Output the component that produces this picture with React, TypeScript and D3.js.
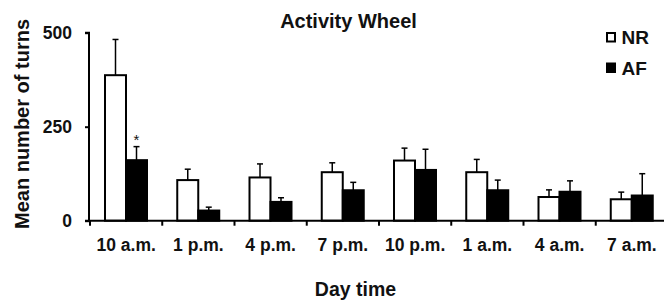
import { useEffect, useRef } from "react";
import * as d3 from "d3";

const categories = ["10 a.m.", "1 p.m.", "4 p.m.", "7 p.m.", "10 p.m.", "1 a.m.", "4 a.m.", "7 a.m."];
const series = ["NR", "AF"];
const nrMeans = [387, 108, 115, 129, 160, 129, 63, 57];
const nrErrors = [95, 29, 36, 25, 33, 34, 19, 19];
const afMeans = [161, 27, 50, 81, 135, 81, 77, 67];
const afErrors = [36, 9, 11, 21, 55, 27, 29, 58];
const significant = [true, false, false, false, false, false, false, false];
const yTicks = [0, 250, 500];

const FONT = "'Liberation Sans', Arial, sans-serif";

const App = () => {
  const svgRef = useRef<SVGSVGElement>(null);

  useEffect(() => {
    const svg = d3.select(svgRef.current);
    svg.selectAll("*").remove();

    const x = d3.scaleBand().domain(categories).range([90, 668]);
    const inner = d3.scaleBand().domain(series).range([15, 57]);
    const y = d3.scaleLinear().domain([0, 500]).range([220.7, 32.7]);

    const rows = categories.map((c, i) => ({
      c,
      bars: [
        { s: "NR", v: nrMeans[i], e: nrErrors[i], fill: "#fff" },
        { s: "AF", v: afMeans[i], e: afErrors[i], fill: "#000" },
      ],
    }));

    const groups = svg
      .selectAll("g.cat")
      .data(rows)
      .join("g")
      .attr("class", "cat")
      .attr("transform", (d) => `translate(${x(d.c)},0)`);

    // error bars (under the bars)
    groups
      .selectAll("g.eb")
      .data((d) => d.bars)
      .join("g")
      .attr("class", "eb")
      .each(function (b) {
        const g = d3.select(this);
        const cx = inner(b.s)! + inner.bandwidth() / 2;
        g.append("line")
          .attr("x1", cx)
          .attr("x2", cx)
          .attr("y1", y(b.v))
          .attr("y2", y(b.v + b.e))
          .attr("stroke", "#000")
          .attr("stroke-width", 1.5);
        g.append("line")
          .attr("x1", cx - 3)
          .attr("x2", cx + 3)
          .attr("y1", y(b.v + b.e))
          .attr("y2", y(b.v + b.e))
          .attr("stroke", "#000")
          .attr("stroke-width", 1.5);
      });

    groups
      .selectAll("rect")
      .data((d) => d.bars)
      .join("rect")
      .attr("x", (b) => inner(b.s)!)
      .attr("width", inner.bandwidth())
      .attr("y", (b) => y(b.v))
      .attr("height", (b) => y(0) - y(b.v))
      .attr("fill", (b) => b.fill)
      .attr("stroke", "#000")
      .attr("stroke-width", 2);

    // significance marker
    groups
      .filter((_, i) => significant[i])
      .append("text")
      .attr("x", inner("AF")! + inner.bandwidth() / 2)
      .attr("y", (d) => y(d.bars[1].v + d.bars[1].e) - 2)
      .attr("text-anchor", "middle")
      .attr("font-family", FONT)
      .attr("font-size", 15)
      .attr("fill", "#111")
      .text("*");

    // axes
    const yAxis = svg
      .append("g")
      .attr("transform", "translate(89,0)")
      .call(d3.axisLeft(y).tickValues(yTicks).tickSize(4).tickPadding(13));
    const xAxis = svg
      .append("g")
      .attr("transform", `translate(0,${y(0)})`)
      .call(d3.axisBottom(x).tickSize(0).tickPadding(17.5));

    // category boundary ticks
    svg
      .append("g")
      .selectAll("line")
      .data(categories)
      .join("line")
      .attr("x1", (c) => x(c)!)
      .attr("x2", (c) => x(c)!)
      .attr("y1", y(0))
      .attr("y2", y(0) + 5)
      .attr("stroke", "#000")
      .attr("stroke-width", 2);

    [yAxis, xAxis].forEach((a) => {
      a.select(".domain").attr("stroke", "#000").attr("stroke-width", 2);
      a.selectAll(".tick line").attr("stroke", "#000").attr("stroke-width", 2);
      a.selectAll(".tick text")
        .attr("fill", "#111")
        .attr("font-family", FONT)
        .attr("font-weight", "bold")
        .attr("font-size", 17.5);
    });
    yAxis.select(".domain").attr("d", `M-4,${y(500)}H0V${y(0)}H-4`);
    xAxis.select(".domain").attr("d", `M88,0H668`);

    // titles
    svg
      .append("text")
      .attr("x", 348.5)
      .attr("y", 27.5)
      .attr("text-anchor", "middle")
      .attr("font-family", FONT)
      .attr("font-weight", "bold")
      .attr("font-size", 20)
      .attr("fill", "#111")
      .text("Activity Wheel");

    svg
      .append("text")
      .attr("transform", `translate(29,124) rotate(-90)`)
      .attr("text-anchor", "middle")
      .attr("font-family", FONT)
      .attr("font-weight", "bold")
      .attr("font-size", 20)
      .attr("fill", "#111")
      .text("Mean number of turns");

    svg
      .append("text")
      .attr("x", 355.5)
      .attr("y", 296)
      .attr("text-anchor", "middle")
      .attr("font-family", FONT)
      .attr("font-weight", "bold")
      .attr("font-size", 19.5)
      .attr("fill", "#111")
      .text("Day time");

    // legend
    const legend = svg
      .append("g")
      .selectAll("g")
      .data(series)
      .join("g")
      .attr("transform", (_, i) => `translate(607,${33 + i * 30.5})`);
    legend
      .append("rect")
      .attr("width", 8)
      .attr("height", 8.5)
      .attr("fill", (_, i) => (i === 0 ? "#fff" : "#000"))
      .attr("stroke", "#000")
      .attr("stroke-width", 2);
    legend
      .append("text")
      .attr("x", 14.5)
      .attr("y", 11)
      .attr("font-family", FONT)
      .attr("font-weight", "bold")
      .attr("font-size", 19)
      .attr("fill", "#111")
      .text((d) => d);
  }, []);

  return (
    <svg
      ref={svgRef}
      width={664}
      height={301}
      style={{ position: "absolute", left: 0, top: 0, background: "#fff" }}
    ></svg>
  );
};

export default App;
